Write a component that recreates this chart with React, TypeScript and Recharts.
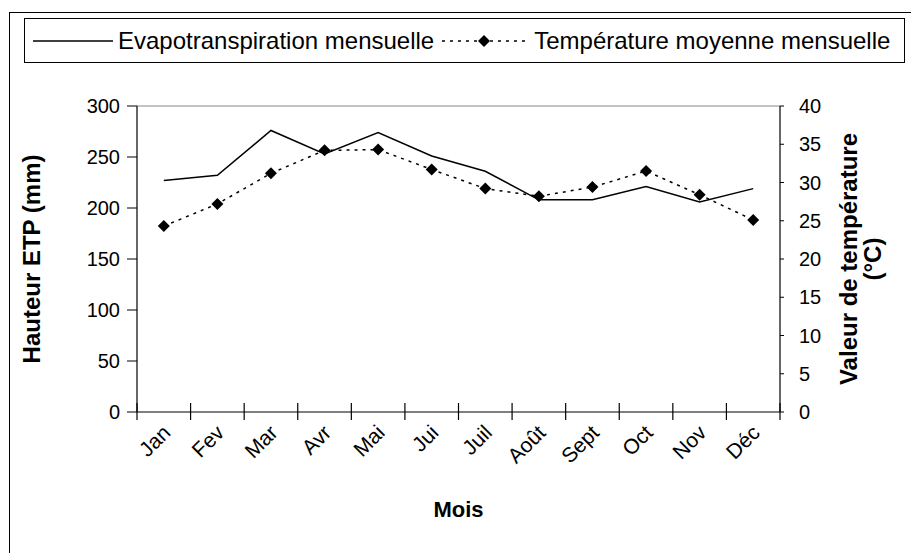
import React from 'react';
import { LineChart, Line, XAxis, YAxis, ReferenceLine } from 'recharts';

const months = ['Jan', 'Fev', 'Mar', 'Avr', 'Mai', 'Jui', 'Juil', 'Août', 'Sept', 'Oct', 'Nov', 'Déc'];
const etp = [227, 232, 276, 253, 274, 251, 236, 208, 208, 221, 206, 219];
const temperature = [24.3, 27.2, 31.2, 34.2, 34.3, 31.7, 29.2, 28.2, 29.4, 31.5, 28.4, 25.1];
const etpTicks = [0, 50, 100, 150, 200, 250, 300];
const tempTicks = [0, 5, 10, 15, 20, 25, 30, 35, 40];

const data = months.map((m, i) => ({ x: i + 0.5, month: m, etp: etp[i], temp: temperature[i] }));
const xTicks: number[] = [];
for (let i = 0; i <= months.length * 2; i++) xTicks.push(i / 2);

const FONT = '"Liberation Sans", Arial, sans-serif';

const XTick = (props: any) => {
  const { x, y, payload } = props;
  const v = payload.value;
  if (Number.isInteger(v)) {
    return <line x1={x} x2={x} y1={y - 9} y2={y + 8} stroke="#000" strokeWidth={1.2} />;
  }
  const label = months[Math.floor(v)];
  const ax = x + 8;
  const ay = y + 22;
  return (
    <text x={ax} y={ay} textAnchor="end" fontSize={21} fontFamily={FONT} fill="#000" transform={`rotate(-45, ${ax}, ${ay})`}>
      {label}
    </text>
  );
};

const Diamond = (props: any) => {
  const { cx, cy, index } = props;
  if (cx == null || cy == null) return null;
  const s = 6;
  return (
    <polygon
      key={`d-${index}`}
      points={`${cx},${cy - s} ${cx + s},${cy} ${cx},${cy + s} ${cx - s},${cy}`}
      fill="#000"
      stroke="none"
    />
  );
};

const LeftTitle = (props: any) => {
  const { viewBox } = props;
  const cx = 31;
  const cy = viewBox.y + viewBox.height / 2;
  return (
    <text x={cx} y={cy} textAnchor="middle" dominantBaseline="central" fontSize={24} fontWeight="bold" fontFamily={FONT} transform={`rotate(-90, ${cx}, ${cy})`}>
      Hauteur ETP (mm)
    </text>
  );
};

const RightTitle = (props: any) => {
  const { viewBox } = props;
  const cx = 857;
  const cy = viewBox.y + viewBox.height / 2;
  return (
    <text x={cx} y={cy} textAnchor="middle" fontSize={24} fontWeight="bold" fontFamily={FONT} transform={`rotate(-90, ${cx}, ${cy})`}>
      <tspan x={cx} dy={0}>Valeur de température</tspan>
      <tspan x={cx} dy={24}>(°C)</tspan>
    </text>
  );
};

const BottomTitle = (props: any) => {
  const { viewBox } = props;
  const cx = viewBox.x + viewBox.width / 2;
  return (
    <text x={cx} y={517} textAnchor="middle" fontSize={22} fontWeight="bold" fontFamily={FONT}>
      Mois
    </text>
  );
};

export default function App() {
  return (
    <div style={{ position: 'absolute', left: 0, top: 0, width: 911, height: 553, background: '#fff', overflow: 'hidden', fontFamily: FONT }}>
      <div style={{ position: 'absolute', left: 9, top: 12, width: 1000, height: 1000, border: '1px solid #000' }} />
      <div
        style={{
          position: 'absolute', left: 24, top: 18, width: 879, height: 43, border: '1px solid #000',
          background: '#fff', display: 'flex', alignItems: 'center', fontSize: 24, color: '#000', whiteSpace: 'nowrap', zIndex: 2,
        }}
      >
        <svg width={80} height={10} style={{ marginLeft: 8 }}>
          <line x1={0} x2={80} y1={5} y2={5} stroke="#000" strokeWidth={1.5} />
        </svg>
        <span style={{ marginLeft: 5 }}>Evapotranspiration mensuelle</span>
        <svg width={88} height={14} style={{ marginLeft: 6 }}>
          <line x1={2} x2={88} y1={7} y2={7} stroke="#000" strokeWidth={1.5} strokeDasharray="3 5" />
          <polygon points="44,1 50,7 44,13 38,7" fill="#000" />
        </svg>
        <span style={{ marginLeft: 6 }}>Température moyenne mensuelle</span>
      </div>
      <div style={{ position: 'absolute', left: 0, top: 0 }}>
        <LineChart width={911} height={553} data={data} margin={{ top: 106, right: 0, bottom: 0, left: 0 }}>
          <XAxis
            dataKey="x"
            type="number"
            domain={[0, 12]}
            ticks={xTicks}
            interval={0}
            tickLine={false}
            tickSize={0}
            tickMargin={0}
            height={141}
            axisLine={{ stroke: '#000', strokeWidth: 1.2 }}
            tick={<XTick />}
            label={<BottomTitle />}
          />
          <YAxis
            yAxisId="l"
            orientation="left"
            domain={[0, 300]}
            ticks={etpTicks}
            interval={0}
            width={137}
            tickSize={10}
            tickMargin={7}
            axisLine={{ stroke: '#000', strokeWidth: 1.2 }}
            tickLine={{ stroke: '#000' }}
            tick={{ fill: '#000', fontSize: 20, fontFamily: FONT }}
            label={<LeftTitle />}
          />
          <YAxis
            yAxisId="r"
            orientation="right"
            domain={[0, 40]}
            ticks={tempTicks}
            interval={0}
            width={131}
            tickSize={4}
            tickMargin={15}
            axisLine={{ stroke: '#000', strokeWidth: 1.2 }}
            tickLine={{ stroke: '#000' }}
            tick={{ fill: '#000', fontSize: 20, fontFamily: FONT }}
            label={<RightTitle />}
          />
          <ReferenceLine yAxisId="l" y={300} stroke="#888" strokeWidth={1.2} />
          <Line yAxisId="l" dataKey="etp" stroke="#000" strokeWidth={1.5} dot={false} isAnimationActive={false} />
          <Line yAxisId="r" dataKey="temp" stroke="#000" strokeWidth={1.5} strokeDasharray="3 5" dot={<Diamond />} isAnimationActive={false} />
        </LineChart>
      </div>
    </div>
  );
}
